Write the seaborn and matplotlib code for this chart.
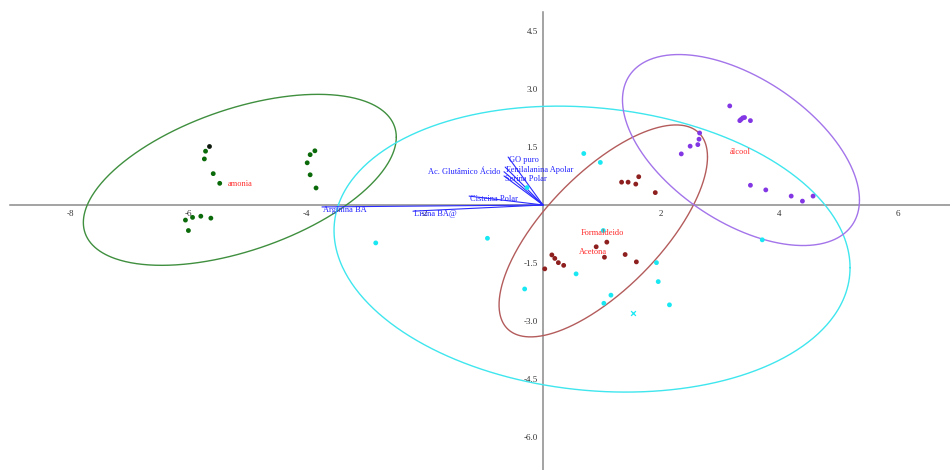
import numpy as np
import pandas as pd
import matplotlib
matplotlib.use("Agg")
import matplotlib.pyplot as plt
import seaborn as sns

# ---- sample scores (component 1, component 2) ----
amonia_x = [-5.71, -5.73, -5.58, -5.47, -6.05, -5.93, -5.79, -5.62, -6.00,
            -3.86, -3.94, -3.99, -3.94, -3.84]
amonia_y = [1.39, 1.19, 0.81, 0.56, -0.39, -0.32, -0.29, -0.34, -0.66,
            1.40, 1.30, 1.09, 0.78, 0.44]
amonia_dark_x = [-5.65]
amonia_dark_y = [1.53]

aldeido_x = [1.33, 1.44, 1.62, 1.57, 1.90, 0.03, 0.15, 0.20, 0.26, 0.35,
             0.90, 1.08, 1.04, 1.39, 1.58]
aldeido_y = [0.59, 0.59, 0.73, 0.54, 0.32, -1.65, -1.29, -1.38, -1.49, -1.56,
             -1.08, -0.96, -1.35, -1.28, -1.47]

controle_x = [0.69, 0.97, -0.27, -2.83, -0.94, 1.02, 0.56, -0.31, 1.15, 1.03,
              1.92, 1.95, 2.14, 3.71]
controle_y = [1.33, 1.10, 0.45, -0.98, -0.86, -0.66, -1.78, -2.17, -2.33, -2.54,
              -1.49, -1.98, -2.58, -0.90]
controle_cruz_x = [1.52]
controle_cruz_y = [-2.79]

alcool_x = [3.16, 3.35, 3.33, 3.38, 3.41, 3.51, 2.65, 2.64, 2.62, 2.49, 2.34,
            3.51, 3.77, 4.20, 4.39, 4.57]
alcool_y = [2.56, 2.21, 2.18, 2.25, 2.26, 2.18, 1.86, 1.70, 1.56, 1.52, 1.32,
            0.51, 0.39, 0.23, 0.10, 0.23]

# ---- group labels ----
grupo_nomes = ["amonia", "Formaldeido", "Acetona", "álcool"]
grupo_lx = [-5.33, 0.64, 0.60, 3.16]
grupo_ly = [0.54, -0.73, -1.21, 1.37]

# ---- loadings (variable vectors) ----
var_nomes = ["GO puro", "Fenilalanina Apolar", "Serina Polar",
             "Ac. Glutâmico Ácido", "Cisteina Polar", "Arginina BA", "Lisina BA@"]
var_x = [-0.59, -0.64, -0.66, -0.66, -1.25, -3.74, -2.20]
var_y = [1.24, 0.98, 0.75, 0.86, 0.23, -0.05, -0.16]

# ---- 95% ellipses: centre and covariance (sxx, sxy, syy) ----
elipse_cx = [-5.13, 0.83, 1.02, 3.35]
elipse_cy = [0.65, -1.14, -0.67, 1.42]
elipse_sxx = [7.01, 19.06, 3.11, 4.02]
elipse_sxy = [2.92, -2.10, 3.37, -2.59]
elipse_syy = [4.88, 13.65, 7.50, 6.09]
elipse_cor = ["#3f8f3f", "#3fe6ee", "#b45c5c", "#a374ea"]

x_ticks = [-8, -6, -4, -2, 2, 4, 6]
y_ticks = [4.5, 3.0, 1.5, -1.5, -3.0, -4.5, -6.0]

sns.set_theme(style="white")
plt.rcParams["font.family"] = ["Liberation Serif", "DejaVu Serif"]
plt.rcParams["axes.unicode_minus"] = False

fig = plt.figure(figsize=(9.5, 4.7), dpi=100)
ax = fig.add_axes([0, 0, 1, 1])
ax.set_xlim(-9.188, 6.887)
ax.set_ylim(-6.848, 5.297)

# ellipses
t = np.linspace(0, 2 * np.pi, 500)
circ = np.vstack([np.cos(t), np.sin(t)])
for cx, cy, sxx, sxy, syy, cor in zip(elipse_cx, elipse_cy, elipse_sxx,
                                      elipse_sxy, elipse_syy, elipse_cor):
    L = np.linalg.cholesky(np.array([[sxx, sxy], [sxy, syy]]))
    pts = L @ circ
    ax.plot(cx + pts[0], cy + pts[1], color=cor, lw=1.0, zorder=2)

# scores
df = pd.DataFrame({
    "x": amonia_x + aldeido_x + controle_x + alcool_x,
    "y": amonia_y + aldeido_y + controle_y + alcool_y,
    "grupo": (["amonia"] * len(amonia_x) + ["aldeido"] * len(aldeido_x)
              + ["controle"] * len(controle_x) + ["alcool"] * len(alcool_x)),
})
paleta = {"amonia": "#0a6a0a", "aldeido": "#8e1f1f",
          "controle": "#19e8f2", "alcool": "#8236e4"}
sns.scatterplot(data=df, x="x", y="y", hue="grupo", palette=paleta,
                s=12, linewidth=0, legend=False, ax=ax, zorder=4)
sns.scatterplot(x=amonia_dark_x, y=amonia_dark_y, color="#0d1a0d", s=12,
                linewidth=0, ax=ax, zorder=4)
sns.scatterplot(x=controle_cruz_x, y=controle_cruz_y, color="#19e8f2",
                marker="x", s=12, linewidth=0.9, ax=ax, zorder=4)

# loading vectors
for nome, vx, vy in zip(var_nomes, var_x, var_y):
    ax.plot([0, vx], [0, vy], color="#2b2bff", lw=0.8, zorder=3)
    if nome.startswith("Ac."):
        ax.annotate(nome, (vx, vy), xytext=(-3, 0), textcoords="offset pixels",
                    ha="right", va="center", fontsize=6.0, color="#2323ff", zorder=5)
    else:
        ax.annotate(nome, (vx, vy), xytext=(1, -3), textcoords="offset pixels",
                    ha="left", va="center", fontsize=6.0, color="#2323ff", zorder=5)

# group names
for nome, lx, ly in zip(grupo_nomes, grupo_lx, grupo_ly):
    ax.text(lx, ly, nome, ha="left", va="center", fontsize=6.0,
            color="#ff2a2a", zorder=5)

# axes through the origin
for s in ["top", "right"]:
    ax.spines[s].set_visible(False)
ax.spines["left"].set_position(("data", 0))
ax.spines["bottom"].set_position(("data", 0))
ax.spines["bottom"].set_bounds(-9.02, 6.887)
ax.spines["left"].set_bounds(-6.848, 4.99)
for s in ["left", "bottom"]:
    ax.spines[s].set_color("#8a8a8a")
    ax.spines[s].set_linewidth(1.1)
    ax.spines[s].set_zorder(1)

ax.set_xticks(x_ticks)
ax.set_xticklabels([f"{v:d}" for v in x_ticks])
ax.set_yticks(y_ticks)
ax.set_yticklabels([f"{v:.1f}" for v in y_ticks])
ax.tick_params(axis="both", direction="out", length=2.3, width=0.8,
               color="#555555", labelsize=6.5, labelcolor="#333333", pad=1.5)
ax.set_xlabel("")
ax.set_ylabel("")
ax.grid(False)

fig.savefig("out.png", dpi=100)
